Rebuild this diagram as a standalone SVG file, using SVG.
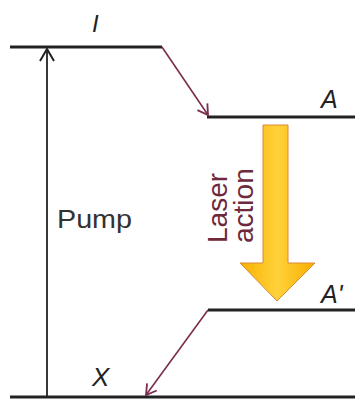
<svg xmlns="http://www.w3.org/2000/svg" width="355" height="401" viewBox="0 0 355 401">
<style>
.lvl{stroke:#222;stroke-width:3;fill:none}
.tr{stroke:#7b2d4f;stroke-width:1.6;fill:none}
.pump{stroke:#222;stroke-width:1.8;fill:none}
.lab{font-family:"Liberation Sans",Arial,sans-serif;font-style:italic;fill:#222}
.txt{font-family:"Liberation Sans",Arial,sans-serif;fill:#333}
.las{font-family:"Liberation Sans",Arial,sans-serif;fill:#6e2a3c;font-size:28px}
</style>
<defs>
<marker id="mh" markerWidth="14" markerHeight="14" refX="11" refY="7" orient="auto" markerUnits="userSpaceOnUse">
<path d="M1,1 L11,7 L1,13" fill="none" stroke="#7b2d4f" stroke-width="1.8"/>
</marker>
<marker id="mp" markerWidth="16" markerHeight="16" refX="13" refY="8" orient="auto" markerUnits="userSpaceOnUse">
<path d="M1,1 L13,8 L1,15" fill="none" stroke="#222" stroke-width="2"/>
</marker>
<linearGradient id="yg" x1="0" y1="0" x2="1" y2="0">
<stop offset="0" stop-color="#f7b100"/>
<stop offset="0.5" stop-color="#ffd23a"/>
<stop offset="1" stop-color="#f7ae00"/>
</linearGradient>
</defs>
<g id="level-I">
<line class="lvl" x1="10" y1="47" x2="162" y2="47"/>
<text class="lab" x="92" y="32" font-size="24">I</text>
</g>
<g id="level-A">
<line class="lvl" x1="207" y1="117" x2="355" y2="117"/>
<text class="lab" x="321" y="108" font-size="25">A</text>
</g>
<g id="level-A2">
<line class="lvl" x1="208" y1="310" x2="355" y2="310"/>
<text class="lab" x="321" y="303" font-size="25">A'</text>
</g>
<g id="level-X">
<line class="lvl" x1="10" y1="397" x2="355" y2="397"/>
<text class="lab" x="92" y="386" font-size="26">X</text>
</g>
<g id="pump">
<text class="txt" x="57" y="228" font-size="26" textLength="75" lengthAdjust="spacingAndGlyphs">Pump</text>
</g>
<g id="laser">
<polygon points="263,125 288,125 288,263 315,263 277,301 240,263 263,263" fill="url(#yg)" stroke="#d98a3a" stroke-width="1"/>
<text class="las" transform="translate(227,243) rotate(-90)">Laser</text>
<text class="las" transform="translate(253,243) rotate(-90)">action</text>
</g>
<g id="connectors">
<line class="pump" x1="47" y1="397" x2="47" y2="49" marker-end="url(#mp)"/>
<line class="tr" x1="162" y1="47" x2="208" y2="115" marker-end="url(#mh)"/>
<line class="tr" x1="208" y1="310" x2="146" y2="395" marker-end="url(#mh)"/>
</g>
</svg>
